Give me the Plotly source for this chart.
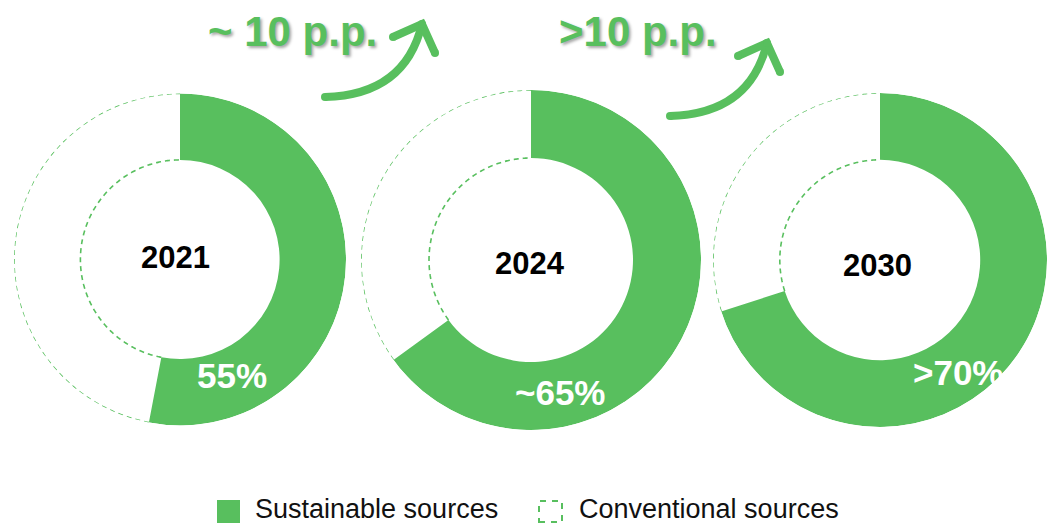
import numpy as np
import plotly.graph_objects as go

# ---- data ----
years = ["2021", "2024", "2030"]
sustainable = [53, 65, 70]          # share drawn as green slice (%)
conventional = [47, 35, 30]         # remaining share (%)
pct_labels = ["55%", "~65%", ">70%"]
change_labels = ["~ 10 p.p.", ">10 p.p."]
legend_labels = ["Sustainable sources", "Conventional sources"]

GREEN = "#58BF5E"
FONT = "Arial, Liberation Sans, sans-serif"
W, H = 1047, 524


def px(x):
    return x / W


def py(y):
    return 1 - y / H


# donut geometry (pixel centres / radii)
centers = [(180, 259.5), (531, 260), (882, 260)]
radii = [166, 170, 169]
HOLE = 0.6

fig = go.Figure()
layout_polars = {}
for i, (yr, s, c) in enumerate(zip(years, sustainable, conventional)):
    name = "polar" if i == 0 else f"polar{i+1}"
    cx, cy = centers[i]
    r = radii[i]
    x0, x1 = max(0, px(cx - r)), min(1, px(cx + r))
    y0, y1 = max(0, py(cy + r)), min(1, py(cy - r))
    layout_polars[name] = dict(
        domain=dict(x=[x0, x1], y=[y0, y1]),
        bgcolor="rgba(0,0,0,0)",
        bargap=0,
        radialaxis=dict(visible=False, range=[0, 1]),
        angularaxis=dict(visible=False, direction="clockwise", rotation=90),
    )
    s_deg = s * 3.6
    c_deg = c * 3.6
    fig.add_trace(go.Barpolar(
        r=[1 - HOLE], base=[HOLE], theta=[s_deg / 2], width=[s_deg],
        marker=dict(color=GREEN, line=dict(width=0)),
        subplot=name, name=legend_labels[0], hoverinfo="skip",
    ))
    th = np.linspace(s_deg, s_deg + c_deg, 240)
    for rr in (1.0, HOLE):
        fig.add_trace(go.Scatterpolar(
            r=np.full_like(th, rr), theta=th, mode="lines",
            line=dict(color=GREEN, width=1.6, dash="5px,4px"),
            subplot=name, name=legend_labels[1], hoverinfo="skip",
            cliponaxis=False,
        ))

annotations = []
# centre year labels
year_pos = [(175, 257), (530, 263.5), (877.5, 265)]
for yr, (x, y) in zip(years, year_pos):
    annotations.append(dict(
        text=f"<b>{yr}</b>", x=px(x), y=py(y), xref="paper", yref="paper",
        xanchor="center", yanchor="middle", showarrow=False,
        font=dict(family=FONT, size=31, color="#000000"),
    ))
# percentage labels
pct_pos = [(232, 375), (560, 392), (958, 372)]
for lab, (x, y) in zip(pct_labels, pct_pos):
    annotations.append(dict(
        text=f"<b>{lab}</b>", x=px(x), y=py(y), xref="paper", yref="paper",
        xanchor="center", yanchor="middle", showarrow=False,
        font=dict(family=FONT, size=35, color="#FFFFFF"),
    ))
# change labels
chg_pos = [(292, 32), (638, 31)]
for lab, (x, y) in zip(change_labels, chg_pos):
    annotations.append(dict(
        text=f"<b>{lab}</b>", x=px(x), y=py(y), xref="paper", yref="paper",
        xanchor="center", yanchor="middle", showarrow=False,
        font=dict(family=FONT, size=42, color=GREEN,
                  shadow="2px 2px 3px rgba(0,0,0,0.35)"),
    ))
# legend text
leg_text_pos = [(253, 509), (577, 509)]
for lab, (x, y) in zip(legend_labels, leg_text_pos):
    annotations.append(dict(
        text=lab, x=px(x), y=py(y), xref="paper", yref="paper",
        xanchor="left", yanchor="middle", showarrow=False,
        font=dict(family=FONT, size=27, color="#111111"),
    ))

shapes = []
# curved arrows
for ox, oy in [(0, 0), (345, 19)]:
    sx, sy = 325 + ox, 97 + oy
    cx_, cy_ = 405 + ox, 95 + oy
    tx, ty = 422 + ox, 24 + oy
    l1 = (393 + ox, 37 + oy)
    l2 = (435 + ox, 53 + oy)
    shapes.append(dict(
        type="path", xref="paper", yref="paper",
        path=f"M {px(sx)},{py(sy)} Q {px(cx_)},{py(cy_)} {px(tx)},{py(ty)}",
        line=dict(color=GREEN, width=8), layer="above",
    ))
    shapes.append(dict(
        type="path", xref="paper", yref="paper",
        path=f"M {px(l1[0])},{py(l1[1])} L {px(tx)},{py(ty)} L {px(l2[0])},{py(l2[1])}",
        line=dict(color=GREEN, width=8), layer="above",
    ))
    for (ex, ey) in [(sx, sy), l1, l2, (tx, ty)]:
        shapes.append(dict(
            type="circle", xref="paper", yref="paper",
            x0=px(ex - 4), x1=px(ex + 4), y0=py(ey + 4), y1=py(ey - 4),
            fillcolor=GREEN, line=dict(width=0), layer="above",
        ))
# legend markers
shapes.append(dict(type="rect", xref="paper", yref="paper",
                   x0=px(217), x1=px(240), y0=py(523), y1=py(500),
                   fillcolor=GREEN, line=dict(width=0)))
shapes.append(dict(type="rect", xref="paper", yref="paper",
                   x0=px(539), x1=px(562), y0=py(522), y1=py(501),
                   fillcolor="rgba(0,0,0,0)",
                   line=dict(color=GREEN, width=2, dash="6px,6px")))

fig.update_layout(
    width=W, height=H,
    margin=dict(l=0, r=0, t=0, b=0),
    paper_bgcolor="white", plot_bgcolor="white",
    showlegend=False,
    annotations=annotations,
    shapes=shapes,
    **layout_polars,
)

fig.write_html(
    "out.html",
    config={"displayModeBar": False},
    post_script="document.body.style.margin='0';document.body.style.padding='0';"
                "document.documentElement.style.overflow='hidden';",
)
